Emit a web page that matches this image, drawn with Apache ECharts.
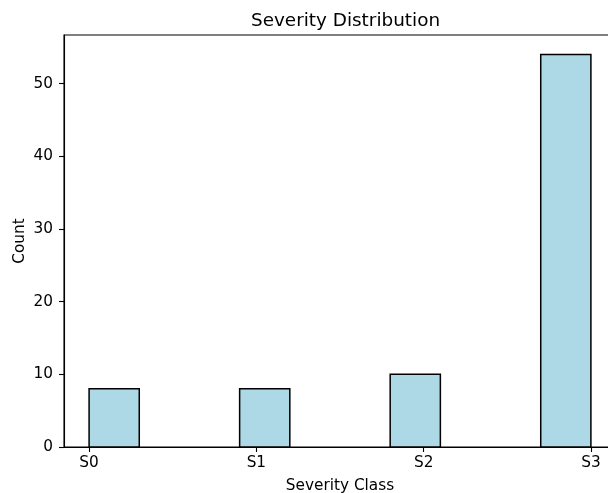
<!DOCTYPE html>
<html>
<head>
<meta charset="utf-8">
<script src="https://cdn.jsdelivr.net/npm/echarts@6/dist/echarts.min.js"></script>
<style>
  html, body { margin: 0; padding: 0; background: #fff; }
  #chart { width: 608px; height: 493px; }
</style>
</head>
<body>
<div id="chart"></div>
<script>
// Severity classes mapped to 0..3 on the x axis
const classNames = ["S0", "S1", "S2", "S3"];
const classPositions = [0, 1, 2, 3];
// Histogram: 10 equal bins spanning 0..3
const binEdges = [0, 0.3, 0.6, 0.9, 1.2, 1.5, 1.8, 2.1, 2.4, 2.7, 3.0];
const binCounts = [8, 0, 0, 8, 0, 0, 10, 0, 0, 54];
const yTicks = [0, 10, 20, 30, 40, 50];

const bars = binCounts.map((c, i) => [binEdges[i], binEdges[i + 1], c]);

const font = "DejaVu Sans";
const labelSize = 15.3;
const chart = echarts.init(document.getElementById("chart"), null, { renderer: "canvas" });

chart.setOption({
  animation: false,
  backgroundColor: "#ffffff",
  title: {
    text: "Severity Distribution",
    left: 340.5,
    textAlign: "center",
    top: 7,
    textStyle: { fontFamily: font, fontSize: 18.4, fontWeight: "normal", color: "#000" }
  },
  grid: {
    left: 64, top: 35, width: 552, height: 412,
    outerBoundsMode: "none",
    containLabel: false,
    show: true, borderColor: "#000", borderWidth: 1.1, backgroundColor: "transparent"
  },
  xAxis: {
    type: "value",
    min: -0.15,
    max: 3.15,
    name: "Severity Class",
    nameLocation: "middle",
    nameGap: 32,
    nameMoveOverlap: false,
    nameTextStyle: { fontFamily: font, fontSize: labelSize, color: "#000" },
    splitLine: { show: false },
    axisLine: { show: true, onZero: false, lineStyle: { color: "#000", width: 1.1 } },
    axisTick: { show: true, length: 5, lineStyle: { color: "#000", width: 1.1 }, customValues: classPositions },
    axisLabel: {
      fontFamily: font, fontSize: labelSize, color: "#000", margin: 9,
      customValues: classPositions,
      formatter: v => classNames[Math.round(v)]
    }
  },
  yAxis: {
    type: "value",
    min: 0,
    max: 56.7,
    name: "Count",
    nameLocation: "middle",
    nameGap: 36.5,
    nameMoveOverlap: false,
    nameTextStyle: { fontFamily: font, fontSize: labelSize, color: "#000" },
    splitLine: { show: false },
    axisLine: { show: true, onZero: false, lineStyle: { color: "#000", width: 1.1 } },
    axisTick: { show: true, length: 5, lineStyle: { color: "#000", width: 1.1 }, customValues: yTicks },
    axisLabel: { fontFamily: font, fontSize: labelSize, color: "#000", margin: 11, customValues: yTicks }
  },
  series: [{
    type: "custom",
    data: bars,
    clip: false,
    renderItem: function (params, api) {
      const x0 = api.value(0), x1 = api.value(1), c = api.value(2);
      if (!c) return null;
      const p0 = api.coord([x0, c]);
      const p1 = api.coord([x1, 0]);
      return {
        type: "rect",
        shape: { x: p0[0], y: p0[1], width: p1[0] - p0[0], height: p1[1] - p0[1] },
        style: { fill: "#ADD8E6", stroke: "#000", lineWidth: 1.5 }
      };
    }
  }]
});
</script>
</body>
</html>
